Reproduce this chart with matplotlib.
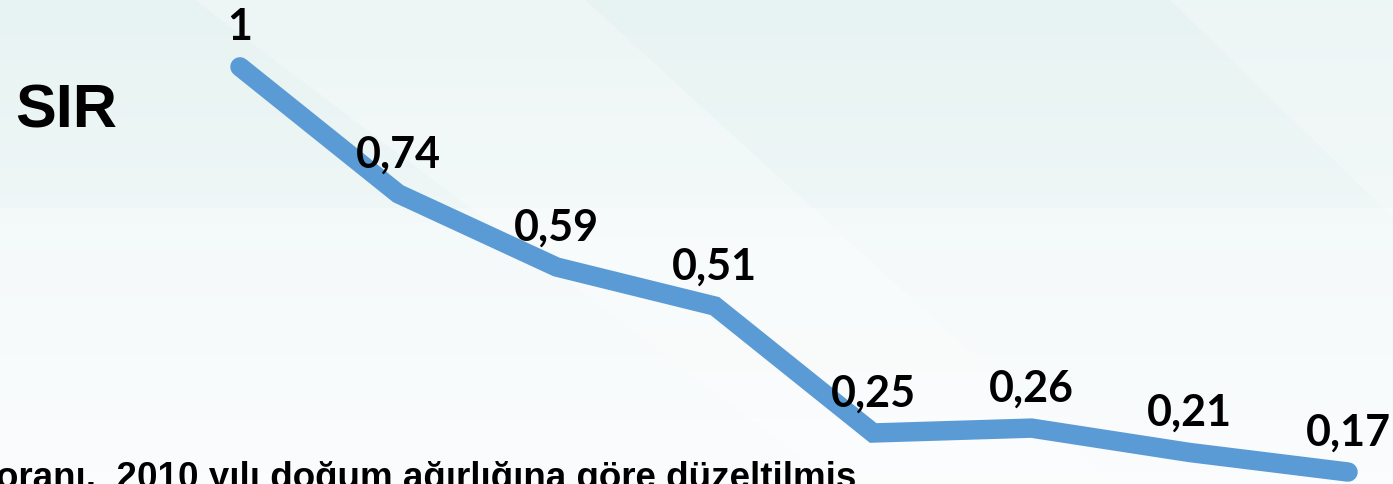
import numpy as np
import matplotlib.pyplot as plt
from matplotlib.patches import Polygon

# Data
periods = np.arange(8)
sir_values = [1, 0.74, 0.59, 0.51, 0.25, 0.26, 0.21, 0.17]
sir_labels = ["1", "0,74", "0,59", "0,51", "0,25", "0,26", "0,21", "0,17"]
title_text = "SIR"
footnote = "oranı,  2010 yılı doğum ağırlığına göre düzeltilmiş"

fig = plt.figure(figsize=(13.93, 4.84), dpi=100)
ax = fig.add_axes([0, 0, 1, 1])
ax.set_xlim(-1.516, 7.284)
ax.set_ylim(0.1455, 1.137)
ax.axis("off")

# background: soft teal slide gradient with faint facets
grad = np.linspace(0, 1, 256).reshape(-1, 1)
top = np.array([0.905, 0.953, 0.948])
bot = np.array([0.975, 0.985, 0.99])
img = top + (bot - top) * grad[..., None]
img = img * np.ones((1, 4, 1))
ax.imshow(img, extent=(0, 1, 0, 1), transform=ax.transAxes,
          aspect="auto", zorder=0, interpolation="bicubic")
facets = [
    ([(0.14, 1), (0.42, 1), (0.80, 0), (0.60, 0)], "#ffffff", 0.30),
    ([(0.84, 1), (1, 1), (1, 0.55)], "#ffffff", 0.25),
    ([(0, 0.57), (1, 0.57), (1, 0), (0, 0)], "#ffffff", 0.35),
]
for pts, col, a in facets:
    ax.add_patch(Polygon(pts, closed=True, transform=ax.transAxes,
                         facecolor=col, edgecolor="none", alpha=a, zorder=1))

# line
ax.plot(periods, sir_values, color="#5B9BD5", lw=14,
        solid_capstyle="round", solid_joinstyle="miter", zorder=3)

for x, v, lab in zip(periods, sir_values, sir_labels):
    ax.annotate(lab, (x, v), xytext=(0, 14), textcoords="offset points",
                ha="center", va="bottom", fontsize=31, fontweight="bold",
                family="Lato", color="black", zorder=4)

fig.text(15 / 1393, 1 - 112 / 484, title_text, fontsize=44, fontweight="bold",
         family="Liberation Sans", va="center", ha="left", color="black")
fig.text(-4 / 1393, -4 / 484, footnote, fontsize=26.5, fontweight="bold",
         family="Liberation Sans", va="baseline", ha="left", color="black")

fig.savefig("out.png", dpi=100)
